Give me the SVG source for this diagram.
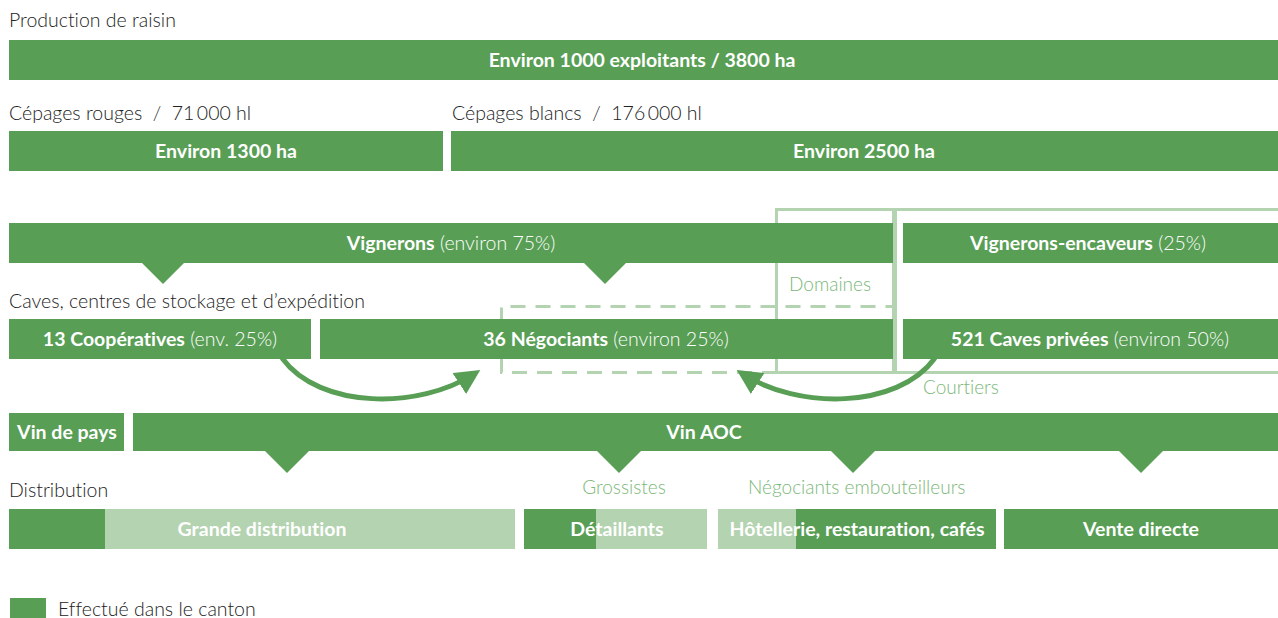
<svg xmlns="http://www.w3.org/2000/svg" width="1278" height="618" viewBox="0 0 1278 618">
<defs>
<style>
text{font-variant-ligatures:none;font-feature-settings:"liga" 0,"dlig" 0}
.d{fill:#589e55}
.l{fill:#b4d3b1}
.bt{font-family:Lato,"Open Sans","Liberation Sans",sans-serif;font-size:19.5px;font-weight:700;fill:#fff;text-anchor:middle}
.rt{font-weight:300}
.lab{font-family:Lato,"Open Sans","Liberation Sans",sans-serif;font-size:19.5px;font-weight:300;fill:#222}
.gl{font-family:Lato,"Open Sans","Liberation Sans",sans-serif;font-size:19px;font-weight:300;fill:#7cb87a}
.box{fill:none;stroke:#b4d3b1;stroke-width:3}
.arr{fill:none;stroke:#589e55;stroke-width:5}
</style>
<marker id="ah" viewBox="0 0 10 10" refX="7" refY="5" markerWidth="5" markerHeight="5" markerUnits="strokeWidth" orient="auto">
<path d="M0,0 L10,5 L0,10 z" fill="#589e55"/>
</marker>
</defs>
<rect width="1278" height="618" fill="#fff"/>

<text class="lab" x="9" y="27">Production de raisin</text>
<g id="n-exploitants"><rect class="d" x="9" y="40" width="1269" height="40"/><text class="bt" x="642" y="67">Environ 1000 exploitants / 3800 ha</text></g>

<text class="lab" x="9" y="120" xml:space="preserve">Cépages rouges  /  71&#8201;000 hl</text>
<text class="lab" x="452" y="120" xml:space="preserve">Cépages blancs  /  176&#8201;000 hl</text>
<g id="n-rouges"><rect class="d" x="9" y="131" width="434" height="40"/><text class="bt" x="226" y="158">Environ 1300 ha</text></g>
<g id="n-blancs"><rect class="d" x="451" y="131" width="827" height="40"/><text class="bt" x="864" y="158">Environ 2500 ha</text></g>

<g id="n-domaines-box"><rect class="box" x="776.5" y="209.5" width="117" height="163"/><text class="gl" x="789" y="291">Domaines</text></g>
<g id="n-encaveurs-box"><rect class="box" x="895.5" y="209.5" width="385" height="163"/></g>
<g id="n-negociants-dash"><path d="M501.5,372.5 V306.5 H893.5" fill="none" stroke="#b4d3b1" stroke-width="3" stroke-dasharray="15,10"/><path d="M501.5,333 V372.5 H776" fill="none" stroke="#b4d3b1" stroke-width="3" stroke-dasharray="15,10"/></g>

<g id="n-vignerons"><rect class="d" x="9" y="223" width="884" height="40"/><path class="d" d="M141,262 H185 L163,284 z"/><path class="d" d="M583,262 H627 L605,284 z"/><text class="bt" x="451" y="250">Vignerons<tspan class="rt"> (environ 75%)</tspan></text></g>
<g id="n-vignerons-encaveurs"><rect class="d" x="903" y="223" width="375" height="40"/><text class="bt" x="1088" y="250">Vignerons-encaveurs<tspan class="rt"> (25%)</tspan></text></g>

<text class="lab" x="9" y="308">Caves, centres de stockage et d’expédition</text>
<g id="n-cooperatives"><rect class="d" x="9" y="319" width="302" height="40"/><text class="bt" x="160" y="346">13 Coopératives<tspan class="rt"> (env. 25%)</tspan></text></g>
<g id="n-negociants"><rect class="d" x="320" y="319" width="573" height="40"/><text class="bt" x="606" y="346">36 Négociants<tspan class="rt"> (environ 25%)</tspan></text></g>
<g id="n-caves-privees"><rect class="d" x="903" y="319" width="375" height="40"/><text class="bt" x="1090" y="346">521 Caves privées<tspan class="rt"> (environ 50%)</tspan></text></g>
<text class="gl" x="923" y="394">Courtiers</text>

<g id="connectors">
<path class="arr" d="M282,358 C320,410 420,409 474,374" marker-end="url(#ah)"/>
<path class="arr" d="M935,358 C897,410 797,409 743,374" marker-end="url(#ah)"/>
</g>

<g id="n-vin-pays"><rect class="d" x="9" y="413" width="115" height="38"/><text class="bt" x="67" y="439">Vin de pays</text></g>
<g id="n-vin-aoc"><rect class="d" x="133" y="413" width="1145" height="38"/><path class="d" d="M264,450 H310 L287,473 z"/><path class="d" d="M596,450 H642 L619,473 z"/><path class="d" d="M830,450 H876 L853,473 z"/><path class="d" d="M1118,450 H1164 L1141,473 z"/><text class="bt" x="704" y="439">Vin AOC</text></g>

<text class="lab" x="9" y="497">Distribution</text>
<text class="gl" x="624" y="494" text-anchor="middle">Grossistes</text>
<text class="gl" x="748" y="494">Négociants embouteilleurs</text>

<g id="n-grande-distribution"><rect class="d" x="9" y="509" width="96" height="40"/><rect class="l" x="105" y="509" width="410" height="40"/><text class="bt" x="262" y="536">Grande distribution</text></g>
<g id="n-detaillants"><rect class="d" x="524" y="509" width="72" height="40"/><rect class="l" x="596" y="509" width="111" height="40"/><text class="bt" x="617" y="536">Détaillants</text></g>
<g id="n-hotellerie"><rect class="l" x="718" y="509" width="78" height="40"/><rect class="d" x="796" y="509" width="200" height="40"/><text class="bt" x="857" y="536">Hôtellerie, restauration, cafés</text></g>
<g id="n-vente-directe"><rect class="d" x="1004" y="509" width="274" height="40"/><text class="bt" x="1141" y="536">Vente directe</text></g>

<g id="legend"><rect class="d" x="10" y="598" width="36" height="20"/><text class="lab" x="58" y="616">Effectué dans le canton</text></g>
</svg>
